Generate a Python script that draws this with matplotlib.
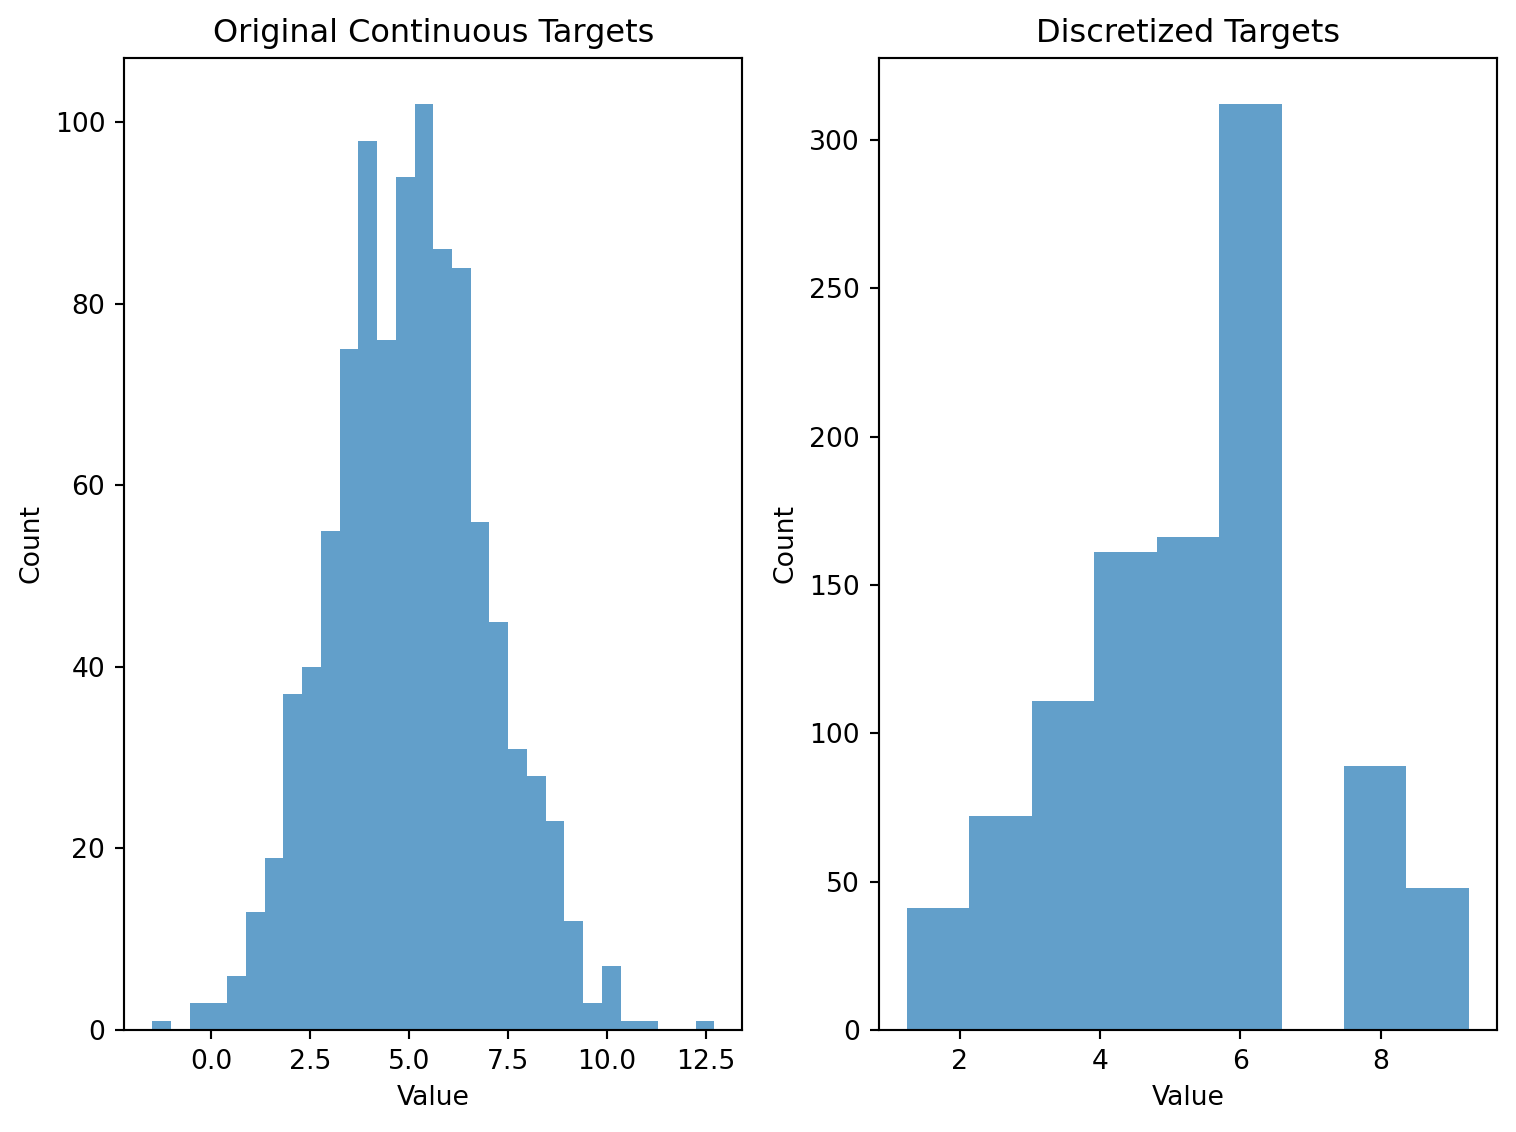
import numpy as np
import matplotlib
matplotlib.use("Agg")
import matplotlib.pyplot as plt

# left panel: 30 bins of the continuous targets
cont_min, cont_max = -1.49, 12.71
cont_counts = [1, 0, 3, 3, 6, 13, 19, 37, 40, 55, 75, 98, 76, 94, 102,
               86, 84, 56, 45, 31, 28, 23, 12, 3, 7, 1, 1, 0, 0, 1]

# right panel: 9 bins of the discretized targets
disc_min, disc_max = 1.243, 9.257
disc_counts = [41, 72, 111, 161, 166, 312, 0, 89, 48]

cont_edges = np.linspace(cont_min, cont_max, len(cont_counts) + 1)
disc_edges = np.linspace(disc_min, disc_max, len(disc_counts) + 1)

DPI = 192
fig, (ax1, ax2) = plt.subplots(1, 2, figsize=(1516 / DPI, 1132 / DPI), dpi=DPI)
fig.subplots_adjust(left=0.0818, right=0.9875, bottom=0.0901, top=0.9488, wspace=0.22)

ax1.hist(cont_edges[:-1], bins=cont_edges, weights=cont_counts, alpha=0.7)
ax1.set_title("Original Continuous Targets")
ax1.set_xlabel("Value")
ax1.set_ylabel("Count")

ax2.hist(disc_edges[:-1], bins=disc_edges, weights=disc_counts, alpha=0.7)
ax2.set_title("Discretized Targets")
ax2.set_xlabel("Value")
ax2.set_ylabel("Count")

plt.savefig("out.png", dpi=DPI)
